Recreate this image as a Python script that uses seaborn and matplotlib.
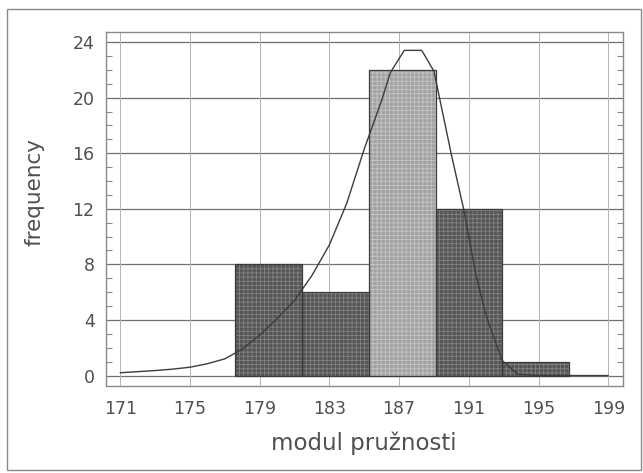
import numpy as np
import pandas as pd
import seaborn as sns
import matplotlib.pyplot as plt
from matplotlib.patches import Rectangle
from matplotlib.ticker import MultipleLocator

# histogram: bin edges and counts
bin_edges = [177.6, 181.43, 185.26, 189.09, 192.92, 196.75]
counts = [8, 6, 22, 12, 1]

# fitted curve (piecewise line in the original)
curve_x = [171, 172, 173, 174, 175, 176, 177, 178, 179, 180, 181, 182, 183, 184, 185,
           186, 186.5, 187.3, 188.3, 189, 189.2, 190, 190.7, 191.4, 192, 192.9, 193.8,
           195, 197, 199]
curve_y = [0.2, 0.28, 0.36, 0.46, 0.6, 0.85, 1.2, 1.9, 2.9, 4.1, 5.4, 7.2, 9.4, 12.4, 16.3,
           19.8, 21.8, 23.4, 23.4, 21.9, 20.7, 15.9, 12.0, 7.3, 4.3, 1.1, 0.1,
           0, 0, 0]

x_ticks = [171, 175, 179, 183, 187, 191, 195, 199]
y_ticks = [0, 4, 8, 12, 16, 20, 24]

sns.set_style('white')
plt.rcParams['font.family'] = ['DejaVu Sans']
plt.rcParams['hatch.linewidth'] = 0.6

centers = [(a + b) / 2 for a, b in zip(bin_edges[:-1], bin_edges[1:])]
hist_df = pd.DataFrame({'modul': centers, 'n': counts})
curve_df = pd.DataFrame({'x': curve_x, 'y': curve_y})

fig = plt.figure(figsize=(6.43, 4.73), dpi=100)
ax = fig.add_axes([0.1644, 0.184, 0.8038, 0.7477])

# textured fill
sns.histplot(data=hist_df, x='modul', weights='n', bins=bin_edges, ax=ax,
             color='#666666', alpha=1, linewidth=0)
for i, p in enumerate(ax.patches):
    if counts[i] == max(counts):
        p.set_facecolor('#a2a2a2')
        p.set_edgecolor('#c4c4c4')
    else:
        p.set_facecolor('#555555')
        p.set_edgecolor('#828282')
    p.set_hatch('++++')
    p.set_linewidth(0)
    p.set_zorder(2)

# dark outlines of the bars
sns.histplot(data=hist_df, x='modul', weights='n', bins=bin_edges, ax=ax,
             fill=False, color='#3a3a3a', linewidth=0.9, zorder=2.5)

sns.lineplot(data=curve_df, x='x', y='y', ax=ax, color='#3c3c3c', linewidth=1.0,
             zorder=3)

ax.set_xlim(170.17, 199.82)
ax.set_ylim(-0.75, 24.7)
ax.set_xticks(x_ticks)
ax.set_yticks(y_ticks)
ax.yaxis.set_minor_locator(MultipleLocator(1))
ax.tick_params(axis='x', which='major', length=0, labelsize=12.5, labelcolor='#505050',
               pad=10)
ax.tick_params(axis='y', which='major', length=0, labelsize=12.5, labelcolor='#505050',
               pad=8)
ax.tick_params(axis='y', which='minor', direction='in', length=4, color='#888888',
               left=True, right=True, width=0.8)
ax.tick_params(axis='y', which='major', right=False)

ax.grid(False)
for t in y_ticks:
    ax.axhline(t, color='#707070', linewidth=0.9, zorder=1)
for t in x_ticks:
    ax.axvline(t, color='#b4b4b4', linewidth=0.7, zorder=1)

for s in ax.spines.values():
    s.set_color('#8a8a8a')
    s.set_linewidth(1.0)

ax.set_xlabel('modul pružnosti', fontsize=16.5, color='#505050')
ax.set_ylabel('frequency', fontsize=15.5, color='#505050')
ax.xaxis.set_label_coords(0.5, -0.13)
ax.yaxis.set_label_coords(-0.118, 0.548)

# outer frame round the whole picture
fig.patches.append(Rectangle((6.5 / 643, 3 / 473), 634 / 643, 461 / 473,
                             transform=fig.transFigure, fill=False,
                             edgecolor='#8a8a8a', linewidth=1.0))

fig.savefig('out.png', dpi=100)
